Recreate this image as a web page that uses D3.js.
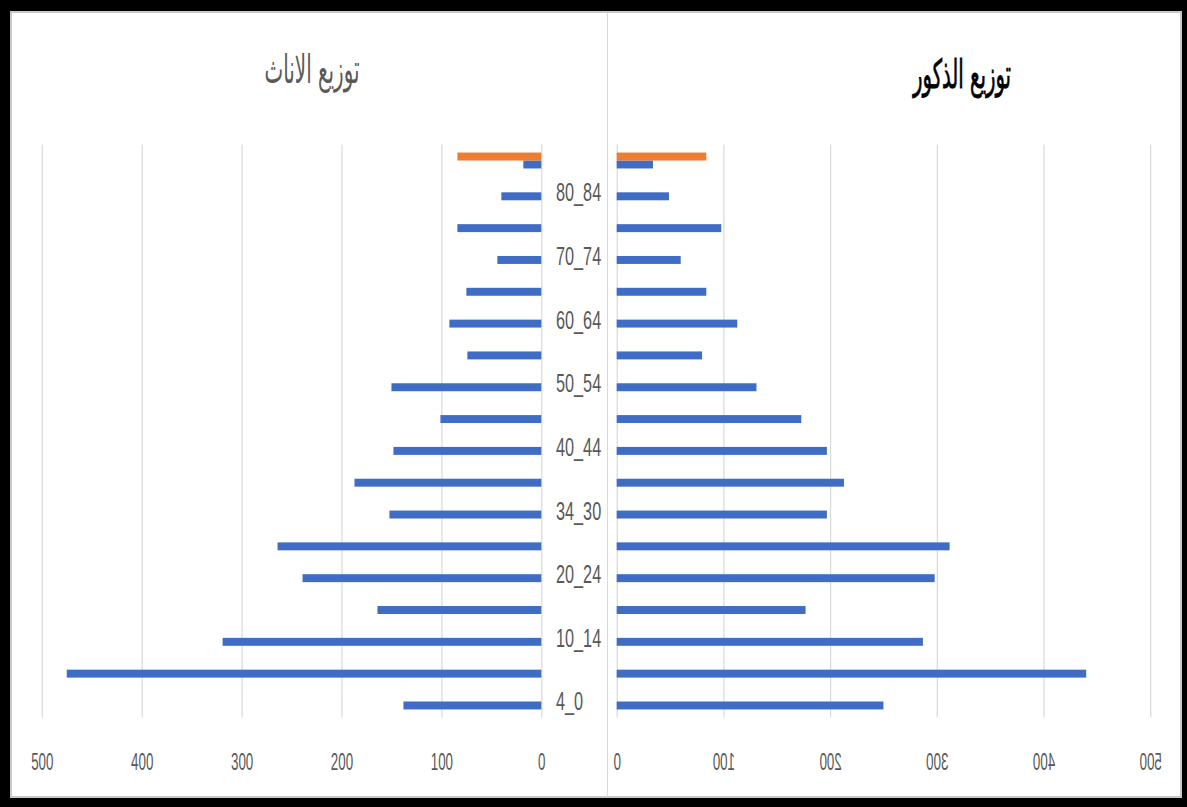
<!DOCTYPE html>
<html>
<head>
<meta charset="utf-8">
<script src="https://cdn.jsdelivr.net/npm/d3@7"></script>
<style>
  html, body { margin: 0; padding: 0; background: #000; }
  svg { display: block; }
</style>
</head>
<body>
<svg id="chart" width="1187" height="807"></svg>
<script>
// age groups, bottom to top (labels as written on the sheet)
var categories = ["4_0", "5_9", "10_14", "15_19", "20_24", "25_29", "34_30", "35_39", "40_44",
                  "45_49", "50_54", "55_59", "60_64", "65_69", "70_74", "75_79", "80_84", "85+"];
var femaleValues = [138, 475, 319, 164, 239, 264, 152, 187, 148, 101, 150, 74, 92, 75, 44, 84, 40, 18];
var maleValues   = [250, 440, 287, 177, 298, 312, 197, 213, 197, 173, 131, 80, 113, 84, 60, 98, 49, 34];
// second series only has a value on the top row
var femaleExtra = [null, null, null, null, null, null, null, null, null, null, null, null, null, null, null, null, null, 84];
var maleExtra   = [null, null, null, null, null, null, null, null, null, null, null, null, null, null, null, null, null, 84];
var tickValues = [0, 100, 200, 300, 400, 500];
var femaleTitle = "توزيع الاناث";
var maleTitle = "توزيع الذكور";

var blue = "#3f6dc5", orange = "#ed7d31", gridColor = "#d9d9d9", labelColor = "#595959";

var svg = d3.select("#chart");

// frame
svg.append("rect").attr("width", 1187).attr("height", 807).attr("fill", "#000");
svg.append("rect").attr("x", 10).attr("y", 11).attr("width", 1172).attr("height", 787).attr("fill", "#fff");
svg.append("rect").attr("x", 11).attr("y", 12).attr("width", 1170).attr("height", 785)
    .attr("fill", "none").attr("stroke", "#c8c8c8").attr("stroke-width", 2);
svg.append("line").attr("x1", 607.5).attr("x2", 607.5).attr("y1", 13).attr("y2", 797)
    .attr("stroke", gridColor).attr("stroke-width", 1);

var plotTop = 144.6, plotBottom = 717.4;

var xF = d3.scaleLinear().domain([0, 500]).range([541.3, 41.8]);
var xM = d3.scaleLinear().domain([0, 500]).range([616.7, 1150.2]);

var y = d3.scaleBand()
    .domain(categories)
    .range([plotBottom, plotTop])
    .paddingInner(0.5)
    .paddingOuter(0.25);
var ys = d3.scaleBand().domain(["extra", "main"]).range([0, y.bandwidth()]);

function drawAxis(x, mirrored) {
  var g = svg.append("g")
      .attr("transform", "translate(0," + plotBottom + ")")
      .call(d3.axisBottom(x).tickValues(tickValues).tickSize(-(plotBottom - plotTop)));
  // axis call resets font attrs, so set them afterwards
  g.attr("font-family", "'Liberation Sans', Arial, sans-serif").attr("font-size", 23);
  g.select(".domain").remove();
  g.selectAll(".tick line").attr("stroke", gridColor).attr("stroke-width", 1.2);
  g.selectAll(".tick text")
      .attr("fill", labelColor)
      .attr("y", 0).attr("dy", null)
      .attr("transform", "translate(0,53) scale(" + (mirrored ? -0.58 : 0.58) + ",1)");
}
drawAxis(xF, false);
drawAxis(xM, true);

var rows = categories.map(function(c, i) {
  return { cat: c, f: femaleValues[i], m: maleValues[i], fx: femaleExtra[i], mx: maleExtra[i] };
});

// female (left, growing leftwards)
svg.append("g").selectAll("rect")
    .data(rows).enter().append("rect")
    .attr("x", function(d) { return xF(d.f); })
    .attr("y", function(d) { return y(d.cat) + ys("main"); })
    .attr("width", function(d) { return xF(0) - xF(d.f); })
    .attr("height", ys.bandwidth())
    .attr("fill", blue);
svg.append("g").selectAll("rect")
    .data(rows.filter(function(d) { return d.fx != null; })).enter().append("rect")
    .attr("x", function(d) { return xF(d.fx); })
    .attr("y", function(d) { return y(d.cat) + ys("extra"); })
    .attr("width", function(d) { return xF(0) - xF(d.fx); })
    .attr("height", ys.bandwidth())
    .attr("fill", orange);

// male (right)
svg.append("g").selectAll("rect")
    .data(rows).enter().append("rect")
    .attr("x", xM(0))
    .attr("y", function(d) { return y(d.cat) + ys("main"); })
    .attr("width", function(d) { return xM(d.m) - xM(0); })
    .attr("height", ys.bandwidth())
    .attr("fill", blue);
svg.append("g").selectAll("rect")
    .data(rows.filter(function(d) { return d.mx != null; })).enter().append("rect")
    .attr("x", xM(0))
    .attr("y", function(d) { return y(d.cat) + ys("extra"); })
    .attr("width", function(d) { return xM(d.mx) - xM(0); })
    .attr("height", ys.bandwidth())
    .attr("fill", orange);

// category labels, every other one (like excel skips them)
svg.append("g")
    .attr("font-family", "'Liberation Sans', Arial, sans-serif")
    .attr("font-size", 25)
    .attr("fill", labelColor)
  .selectAll("text")
    .data(categories.filter(function(c, i) { return i % 2 == 0 && i < 17; }))
    .enter().append("text")
    .attr("transform", function(c) {
      return "translate(556," + (y(c) + y.bandwidth() / 2 + 9) + ") scale(0.65,1)";
    })
    .text(function(c) { return c; });

// titles, squeezed to the width they have in the picture
function title(txt, cx, base, w, color, strokeW) {
  var t = svg.append("text")
      .attr("font-family", "'DejaVu Sans', sans-serif")
      .attr("font-size", 40)
      .attr("fill", color)
      .attr("stroke", color)
      .attr("stroke-width", strokeW)
      .attr("text-anchor", "middle")
      .attr("direction", "rtl")
      .text(txt);
  var tw = t.node().getComputedTextLength();
  t.attr("transform", "translate(" + cx + "," + base + ") scale(" + (w / tw) + ",1)");
}
title(femaleTitle, 312, 83, 95, labelColor, 0);
title(maleTitle, 962, 88, 98, "#000", 0.8);
</script>
</body>
</html>
